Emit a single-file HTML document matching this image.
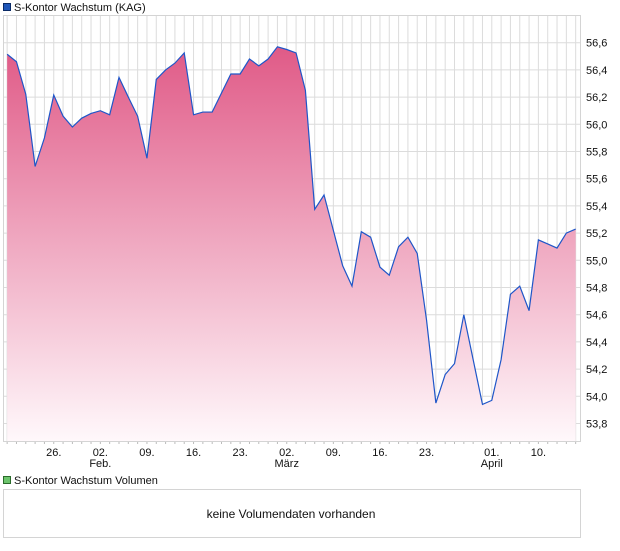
<!DOCTYPE html>
<html><head><meta charset="utf-8"><style>
body{margin:0;background:#fff;font-family:"Liberation Sans",sans-serif;}
svg text{font-family:"Liberation Sans",sans-serif;}
</style></head><body>
<svg id="chart" width="620" height="546" xmlns="http://www.w3.org/2000/svg">
<defs><linearGradient id="g" x1="0" y1="0" x2="0" y2="1"><stop offset="0" stop-color="#e05a87"/><stop offset="1" stop-color="#fff8fb"/></linearGradient></defs>
<rect x="3.5" y="3.5" width="7" height="7" fill="#1f56b8" stroke="#0a2a66"/>
<text x="14" y="11" font-size="11" fill="#111">S-Kontor Wachstum (KAG)</text>
<g id="grid"></g><g id="series"></g><g id="axes"></g>
<rect x="3.5" y="15.5" width="577" height="426" fill="none" stroke="#d4d4d4"/>
<rect x="3.5" y="476.5" width="7" height="7" fill="#6cc46c" stroke="#2a6a2a"/>
<text x="14" y="484" font-size="11" fill="#111">S-Kontor Wachstum Volumen</text>
<rect x="3.5" y="489.5" width="577" height="48" fill="#fff" stroke="#d4d4d4"/>
<text x="291" y="518" font-size="12" text-anchor="middle" fill="#111">keine Volumendaten vorhanden</text>
</svg>
<script>
const values=[56.515,56.46,56.22,55.69,55.9,56.215,56.06,55.98,56.045,56.08,56.10,56.07,56.345,56.2,56.06,55.75,56.33,56.4,56.45,56.525,56.07,56.09,56.09,56.23,56.37,56.37,56.48,56.43,56.48,56.57,56.55,56.525,56.25,55.375,55.48,55.22,54.96,54.81,55.21,55.17,54.95,54.89,55.1,55.17,55.05,54.56,53.95,54.16,54.24,54.6,54.27,53.94,53.97,54.27,54.75,54.81,54.63,55.15,55.12,55.09,55.2,55.23];
const yTicks=[53.8,54.0,54.2,54.4,54.6,54.8,55.0,55.2,55.4,55.6,55.8,56.0,56.2,56.4,56.6];
const dateLabels=["26.","02.","09.","16.","23.","02.","09.","16.","23.","01.","10."];
const dateIdx=[5,10,15,20,25,30,35,40,45,52,57];
const monthLabels=["Feb.","März","April"];
const monthIdx=[10,30,52];
const NS="http://www.w3.org/2000/svg";
const x=i=>7.15+i*9.32;
const y=v=>42.7+(56.6-v)*136;
function mk(tag,attrs,parent){const e=document.createElementNS(NS,tag);for(const k in attrs)e.setAttribute(k,attrs[k]);document.getElementById(parent).appendChild(e);return e;}
for(let i=0;x(i)<580;i++){const l=mk('line',{x1:x(i),x2:x(i),y1:16,y2:441,stroke:'#dcdcdc'},'grid');


const t=mk('line',{x1:x(i),x2:x(i),y1:441,y2:444,stroke:'#bbb'},'axes');

}
yTicks.forEach(v=>{const l=mk('line',{x1:3,x2:581,y1:y(v),y2:y(v),stroke:'#dcdcdc'},'grid');


const t=mk('text',{x:586,y:y(v)+4,'font-size':11,fill:'#111'},'axes');t.textContent=v.toFixed(1).replace('.',',');

});
let pts=values.map((v,i)=>x(i).toFixed(2)+','+y(v).toFixed(2));
const area=mk('polygon',{points:x(0)+',441 '+pts.join(' ')+' '+x(values.length-1)+',441',fill:'url(#g)'},'series');


const line=mk('polyline',{points:pts.join(' '),fill:'none',stroke:'#1f56c8','stroke-width':1.2},'series');


dateLabels.forEach((s,k)=>{const t=mk('text',{x:x(dateIdx[k]),y:456,'font-size':11,'text-anchor':'middle',fill:'#111'},'axes');t.textContent=s;

});
monthLabels.forEach((s,k)=>{const t=mk('text',{x:x(monthIdx[k]),y:467,'font-size':11,'text-anchor':'middle',fill:'#111'},'axes');t.textContent=s;

});
</script>
</body></html>
